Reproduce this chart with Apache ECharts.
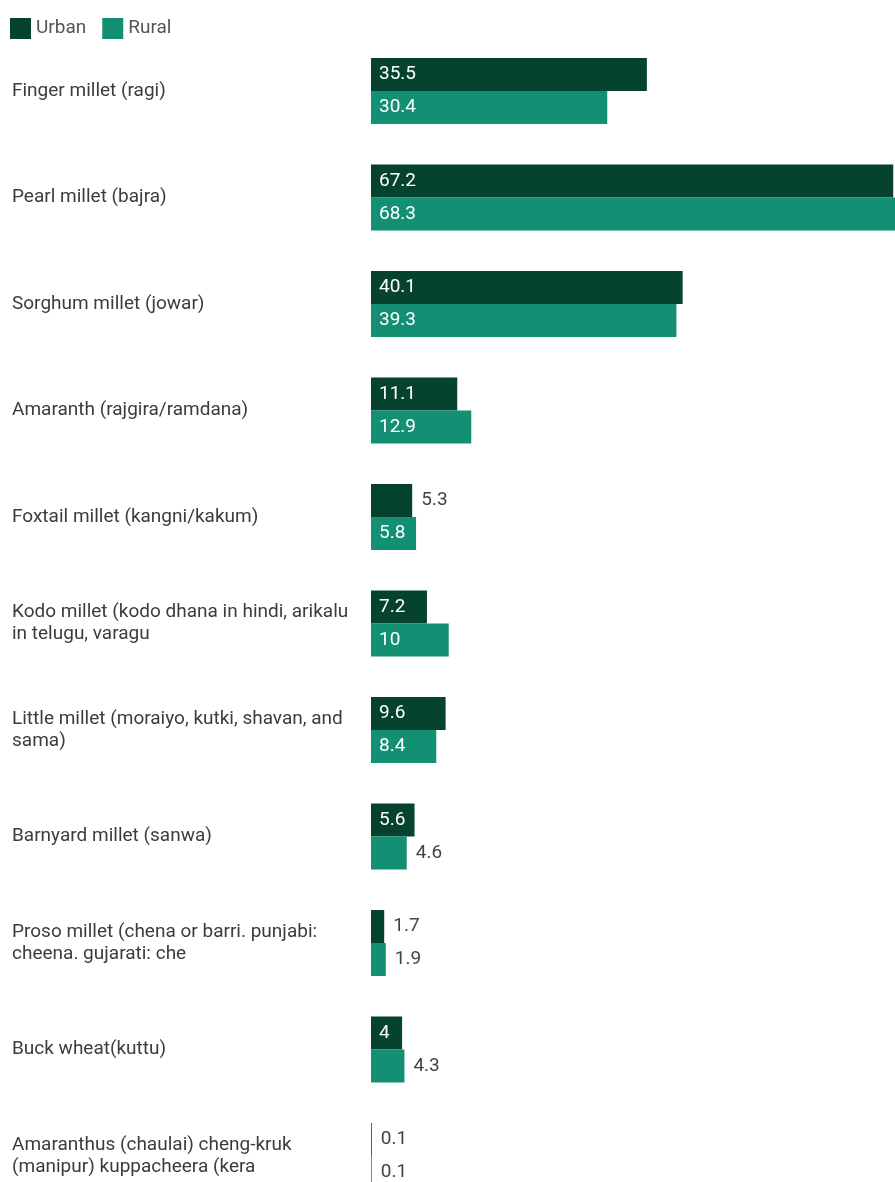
<!DOCTYPE html>
<html>
<head>
<meta charset="utf-8">
<script src="https://cdn.jsdelivr.net/npm/echarts@6/dist/echarts.min.js"></script>
<style>
html,body{margin:0;padding:0;overflow:hidden;background:#fff;}
#chart{width:920px;height:1210px;}
</style>
</head>
<body>
<div id="chart"></div>
<script>
const categories = [
  "Finger millet (ragi)",
  "Pearl millet (bajra)",
  "Sorghum millet (jowar)",
  "Amaranth (rajgira/ramdana)",
  "Foxtail millet (kangni/kakum)",
  "Kodo millet (kodo dhana in hindi, arikalu\nin telugu, varagu",
  "Little millet (moraiyo, kutki, shavan, and\nsama)",
  "Barnyard millet (sanwa)",
  "Proso millet (chena or barri. punjabi:\ncheena. gujarati: che",
  "Buck wheat(kuttu)",
  "Amaranthus (chaulai) cheng-kruk\n(manipur) kuppacheera (kera"
];
const urban = [35.5, 67.2, 40.1, 11.1, 5.3, 7.2, 9.6, 5.6, 1.7, 4, 0.1];
const rural = [30.4, 68.3, 39.3, 12.9, 5.8, 10, 8.4, 4.6, 1.9, 4.3, 0.1];
const seriesNames = ["Urban", "Rural"];
const colors = ["#05432f", "#138f73"];

const X_MAX = 70;
const GRID_W = 544;
const FONT = "19px Roboto";
const ctx = document.createElement("canvas").getContext("2d");
ctx.font = FONT;

function toData(vals) {
  return vals.map(v => {
    const barPx = v / X_MAX * GRID_W;
    const tw = ctx.measureText(String(v)).width;
    const inside = barPx - tw >= 16;
    return {
      value: v,
      label: inside
        ? { position: "insideLeft", color: "#ffffff", distance: 8 }
        : { position: "right", color: "#444444", distance: 9 }
    };
  });
}

const chart = echarts.init(document.getElementById("chart"), null, { renderer: "canvas" });
chart.setOption({
  animation: false,
  color: colors,
  legend: {
    data: seriesNames,
    left: 5,
    top: 13,
    icon: "rect",
    itemWidth: 21,
    itemHeight: 21,
    itemGap: 16,
    textStyle: { fontFamily: "Roboto", fontSize: 19, color: "#555555" }
  },
  grid: {
    left: 371,
    top: 37.75,
    width: GRID_W,
    height: 1171.5,
    containLabel: false,
    outerBoundsMode: "none"
  },
  xAxis: {
    type: "value",
    min: 0,
    max: X_MAX,
    show: false,
    splitLine: { show: false }
  },
  yAxis: {
    type: "category",
    inverse: true,
    data: categories,
    axisLine: { show: false },
    axisTick: { show: false },
    splitLine: { show: false },
    axisLabel: {
      align: "left",
      margin: 359,
      fontFamily: "Roboto",
      fontSize: 19,
      lineHeight: 22,
      color: "#3c3c3c"
    }
  },
  series: [urban, rural].map((vals, i) => ({
    name: seriesNames[i],
    type: "bar",
    barWidth: 33,
    barGap: "0%",
    data: toData(vals),
    label: {
      show: true,
      fontFamily: "Roboto",
      fontSize: 19
    }
  }))
});
</script>
</body>
</html>
